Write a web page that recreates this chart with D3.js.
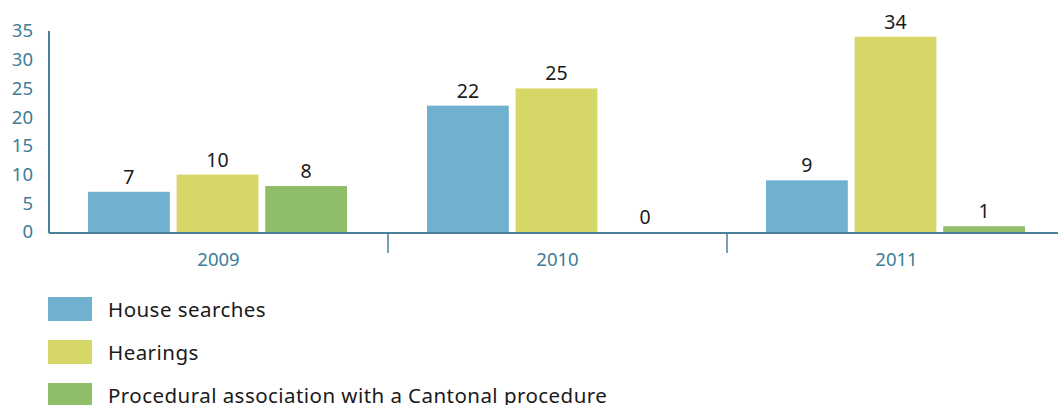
<!DOCTYPE html>
<html>
<head>
<meta charset="utf-8">
<script src="https://cdn.jsdelivr.net/npm/d3@7"></script>
<style>
  html, body { margin: 0; padding: 0; background: #fff; }
  svg { display: block; }
  text { font-family: "Noto Sans", "Open Sans", sans-serif; }
</style>
</head>
<body>
<svg id="chart" width="1058" height="405"></svg>
<script>
const years = ["2009", "2010", "2011"];
const seriesNames = ["House searches", "Hearings", "Procedural association with a Cantonal procedure"];
const houseSearches = [7, 22, 9];
const hearings = [10, 25, 34];
const proceduralAssociation = [8, 0, 1];
const yTicks = [0, 5, 10, 15, 20, 25, 30, 35];

const colors = ["#70b1cf", "#d5d766", "#8fbd68"];
const axisColor = "#4a8099";
const tickTextColor = "#3b7d98";

const series = [houseSearches, hearings, proceduralAssociation];

const svg = d3.select("#chart");
const plotLeft = 49, plotRight = 1066, plotTop = 31, plotBottom = 232;

const x0 = d3.scaleBand().domain(years).range([plotLeft, plotRight]).paddingInner(0).paddingOuter(0);
// bars sit in a cluster inset from each year band
const x1 = d3.scaleBand().domain(seriesNames).range([39, 298])
  .paddingInner(0.077).paddingOuter(0);
const y = d3.scaleLinear().domain([0, 35]).range([plotBottom, plotTop]);

// bars
const groups = svg.append("g").selectAll("g")
  .data(years)
  .join("g")
  .attr("transform", d => `translate(${x0(d)},0)`);

groups.selectAll("rect")
  .data((d, i) => seriesNames.map((s, j) => ({ s, v: series[j][i], c: colors[j] })))
  .join("rect")
  .attr("x", d => x1(d.s))
  .attr("width", x1.bandwidth())
  .attr("y", d => y(d.v))
  .attr("height", d => plotBottom - y(d.v))
  .attr("fill", d => d.c);

groups.selectAll("text.val")
  .data((d, i) => seriesNames.map((s, j) => ({ s, v: series[j][i] })))
  .join("text")
  .attr("class", "val")
  .attr("x", d => x1(d.s) + x1.bandwidth() / 2)
  .attr("y", d => y(d.v) - 8)
  .attr("text-anchor", "middle")
  .attr("font-size", 19.5)
  .attr("fill", "#1a1a1a")
  .text(d => d.v);

// y axis
const yAxis = svg.append("g")
  .attr("transform", `translate(${plotLeft},0)`)
  .call(d3.axisLeft(y).tickValues(yTicks).tickSize(0).tickPadding(16));
yAxis.select(".domain").attr("stroke", axisColor).attr("stroke-width", 2)
  .attr("d", `M0,${plotTop}V${plotBottom + 1}`);
yAxis.selectAll("text").attr("font-size", 18.5).attr("fill", tickTextColor)
  .attr("font-family", "Noto Sans, sans-serif");

// x axis baseline and separators
const xAxis = svg.append("g");
xAxis.append("line")
  .attr("x1", plotLeft).attr("x2", 1058)
  .attr("y1", plotBottom + 1).attr("y2", plotBottom + 1)
  .attr("stroke", axisColor).attr("stroke-width", 2);
xAxis.selectAll("line.sep")
  .data(years.slice(1))
  .join("line")
  .attr("class", "sep")
  .attr("x1", d => x0(d)).attr("x2", d => x0(d))
  .attr("y1", plotBottom).attr("y2", plotBottom + 21)
  .attr("stroke", axisColor).attr("stroke-width", 1.5);
xAxis.selectAll("text")
  .data(years)
  .join("text")
  .attr("x", d => x0(d) + x0.bandwidth() / 2)
  .attr("y", 266)
  .attr("text-anchor", "middle")
  .attr("font-size", 18.5)
  .attr("fill", tickTextColor)
  .text(d => d);

// legend
const legend = svg.append("g").selectAll("g")
  .data(seriesNames)
  .join("g")
  .attr("transform", (d, i) => `translate(48,${297 + i * 43})`);
legend.append("rect")
  .attr("width", 44).attr("height", 24)
  .attr("fill", (d, i) => colors[i]);
legend.append("text")
  .attr("x", 60).attr("y", 20)
  .attr("font-size", 20.5)
  .attr("letter-spacing", 0.45)
  .attr("fill", "#1a1a1a")
  .text(d => d);
</script>
</body>
</html>
